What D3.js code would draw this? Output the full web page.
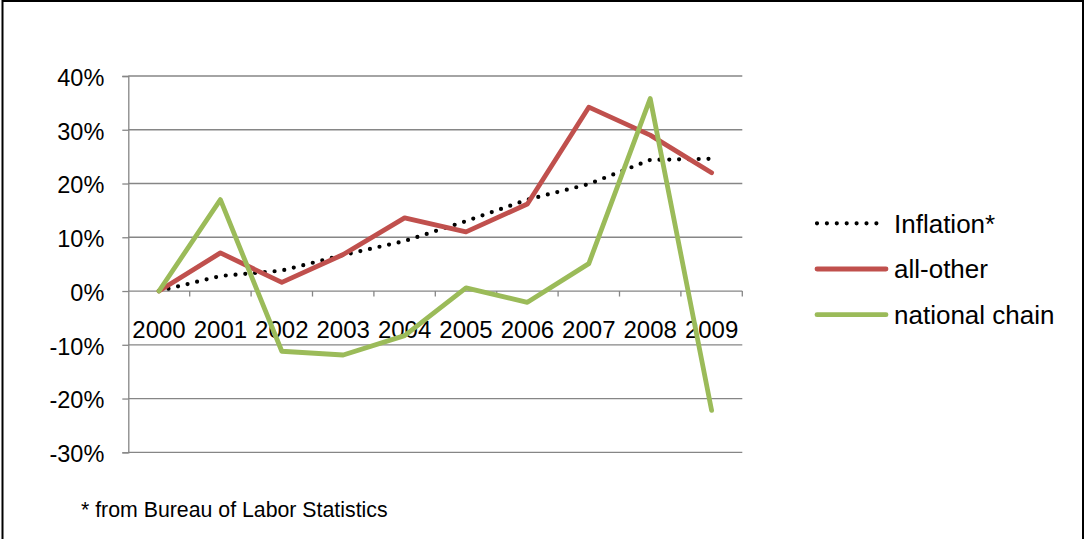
<!DOCTYPE html>
<html>
<head>
<meta charset="utf-8">
<script src="https://cdn.jsdelivr.net/npm/d3@7"></script>
<style>
  html, body { margin: 0; padding: 0; background: #fff; }
  svg { display: block; font-family: "Liberation Sans", Arial, sans-serif; }
</style>
</head>
<body>
<svg id="chart" width="1085" height="539"></svg>
<script>
// ---- data ----
const categories = ["2000","2001","2002","2003","2004","2005","2006","2007","2008","2009"];
const inflation   = [0, 2.8, 3.8, 6.7, 9.3, 13.0, 17.0, 19.9, 24.4, 24.6];
const allOther    = [0, 7.1, 1.6, 6.8, 13.6, 11.0, 16.2, 34.2, 29.0, 22.0];
const nationalChain = [0, 17.0, -11.2, -11.9, -8.3, 0.6, -2.1, 5.1, 35.8, -22.2];
const yTicks = [-30, -20, -10, 0, 10, 20, 30, 40];
const seriesNames = ["Inflation*", "all-other", "national chain"];
const footnote = "* from Bureau of Labor Statistics";

const series = [
  { name: seriesNames[0], values: inflation, color: "#000000", dotted: true },
  { name: seriesNames[1], values: allOther, color: "#C0504D", dotted: false },
  { name: seriesNames[2], values: nationalChain, color: "#9BBB59", dotted: false }
];

const svg = d3.select("#chart");

// outer border
svg.append("rect")
  .attr("x", 2.5).attr("y", 1).attr("width", 1080.5).attr("height", 600)
  .attr("fill", "none").attr("stroke", "#000").attr("stroke-width", 2);

const plotL = 128.3, plotR = 742.3, plotT = 76, plotB = 452.3;

const x = d3.scaleBand().domain(categories).range([plotL, plotR]).padding(0);
const y = d3.scaleLinear().domain([-30, 40]).range([plotB, plotT]);
const cx = d => x(d) + x.bandwidth() / 2;

const gridColor = "#868686";

// gridlines
svg.append("g").selectAll("line").data(yTicks).join("line")
  .attr("x1", plotL).attr("x2", plotR)
  .attr("y1", d => y(d)).attr("y2", d => y(d))
  .attr("stroke", gridColor).attr("stroke-width", 1.3);

// y axis
const yAxis = svg.append("g").attr("transform", `translate(${plotL},0)`)
  .call(d3.axisLeft(y).tickValues(yTicks).tickSize(6).tickPadding(18)
    .tickFormat(d => d + "%"));
yAxis.select(".domain").attr("stroke", gridColor).attr("stroke-width", 1.3);
yAxis.selectAll(".tick line").attr("stroke", gridColor).attr("stroke-width", 1.3);
yAxis.selectAll(".tick text").attr("font-size", 23.5).attr("fill", "#000")
  .attr("font-family", "Liberation Sans, Arial, sans-serif").attr("dy", "0.4em");

// x axis at zero
const xAxis = svg.append("g").attr("transform", `translate(0,${y(0)})`)
  .call(d3.axisBottom(x).tickSize(0).tickPadding(29.5));
xAxis.select(".domain").remove();
xAxis.selectAll(".tick text").attr("font-size", 24).attr("fill", "#000")
  .attr("font-family", "Liberation Sans, Arial, sans-serif");
// category boundary ticks
const bounds = categories.slice(1).map(d => x(d)).concat([plotR]);
svg.append("g").selectAll("line").data(bounds).join("line")
  .attr("x1", d => d).attr("x2", d => d)
  .attr("y1", y(0)).attr("y2", y(0) + 5.5)
  .attr("stroke", gridColor).attr("stroke-width", 1.3);

// lines
const line = d3.line().x((d, i) => cx(categories[i])).y(d => y(d));
svg.append("g").selectAll("path").data(series).join("path")
  .attr("d", d => line(d.values))
  .attr("fill", "none")
  .attr("stroke", d => d.color)
  .attr("stroke-width", d => d.dotted ? 4.2 : 4.8)
  .attr("stroke-linecap", "round")
  .attr("stroke-linejoin", "round")
  .attr("stroke-dasharray", d => d.dotted ? "0 9.8" : null);

// legend
const legY = d3.scaleBand().domain(seriesNames).range([200.5, 337.5]);
const leg = svg.append("g").selectAll("g").data(series).join("g")
  .attr("transform", d => `translate(0,${legY(d.name) + legY.bandwidth() / 2})`);
leg.append("line")
  .attr("x1", 817).attr("x2", d => d.dotted ? 877 : 886)
  .attr("y1", 0).attr("y2", 0)
  .attr("stroke", d => d.color)
  .attr("stroke-width", d => d.dotted ? 4.2 : 4.8)
  .attr("stroke-linecap", "round")
  .attr("stroke-dasharray", d => d.dotted ? "0 9.9" : null);
leg.append("text")
  .attr("x", 894).attr("y", 0).attr("dy", "0.36em")
  .attr("font-size", 26).attr("fill", "#000")
  .text(d => d.name);

// footnote
svg.append("text").attr("x", 81).attr("y", 517)
  .attr("font-size", 21.3).attr("fill", "#000").text(footnote);
</script>
</body>
</html>
